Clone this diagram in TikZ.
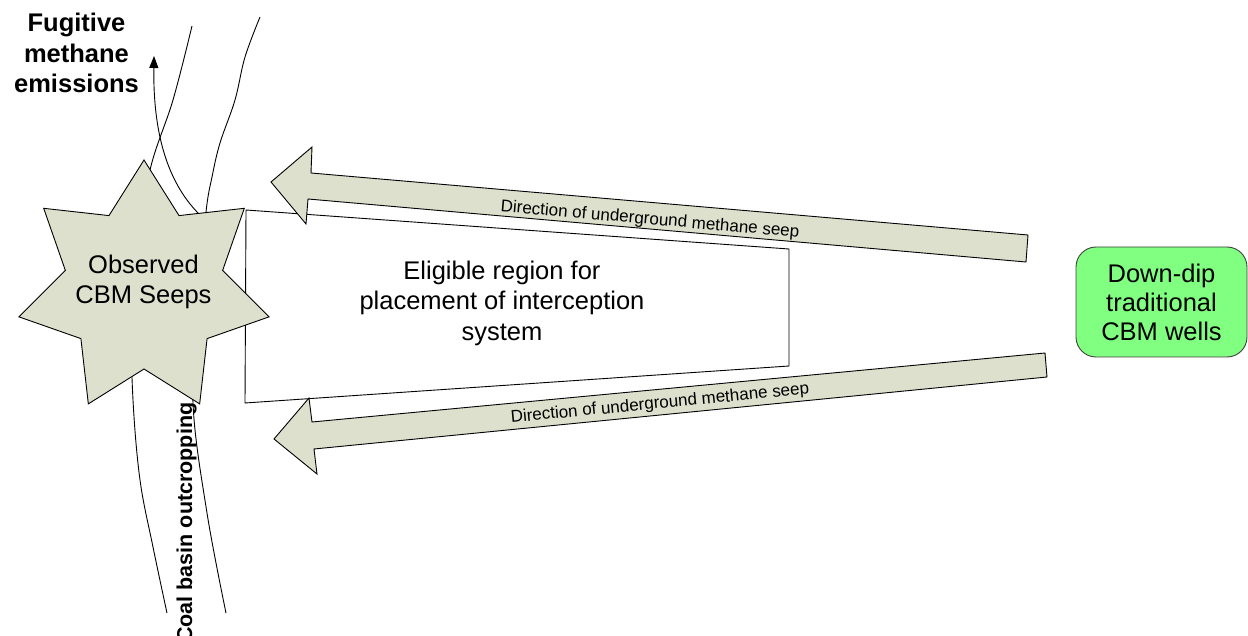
\documentclass[tikz,border=0pt]{standalone}
\usepackage{fontspec}
\setmainfont{Liberation Sans}
\usetikzlibrary{arrows.meta}
\definecolor{seepfill}{RGB}{221,224,204}
\definecolor{wellfill}{RGB}{128,255,128}
\tikzset{
  outline/.style={draw=black, line width=0.9pt},
  blockarrow/.style={outline, fill=seepfill, line join=miter},
  bigtext/.style={font=\fontsize{25.5}{30.5}\selectfont, align=center, inner sep=0pt},
  smalltext/.style={font=\fontsize{17}{20}\selectfont, inner sep=0pt},
}
\begin{document}
\begin{tikzpicture}[x=1pt,y=-1pt]
\useasboundingbox (0,0) rectangle (1248,636);
% coal basin outcrop lines
\draw[outline] plot[smooth, tension=0.6] coordinates {(192,26) (173,100) (150,170) (138,250) (132,330) (133,400) (140,480) (153,547) (167,613)};
\draw[outline] plot[smooth, tension=0.6] coordinates {(260,17) (245,57) (235,100) (220,143) (212,177) (206,212) (198,300) (193,403) (207,513) (226,613)};
% fugitive emissions arrow
\coordinate (fugstart) at (198,213);
\coordinate (fugtip) at (154,56);
\draw[outline, -{Triangle[length=12pt, width=9pt]}] (fugstart) .. controls (166,180) and (153,130) .. (fugtip);
\node[bigtext, font=\bfseries\fontsize{25.5}{30.5}\selectfont] (fug) at (76.5,53) {Fugitive\\methane\\emissions};
% eligible region
\draw[outline] (246,210) -- (789,249) -- (789,366) -- (245,403) -- cycle;
\node[bigtext] (elig) at (502,303.4) {Eligible region for\\placement of interception\\system};
% star
\draw[outline, fill=seepfill] (144,160)
  \foreach \k in {0,...,6} {
    -- ({144+80.7*cos(90+\k*360/7+360/14)}, {288.3-80.7*sin(90+\k*360/7+360/14)})
    -- ({144+128.3*cos(90+(\k+1)*360/7)}, {288.3-128.3*sin(90+(\k+1)*360/7)})
  } -- cycle;
\node[bigtext] (seeps) at (143.5,282) {Observed\\CBM Seeps};
% block arrows
\draw[blockarrow] (271,182) -- (312,147) -- (311,173) -- (1028,235) -- (1026,262) -- (308,199) -- (306,224) -- cycle;
\node[smalltext, rotate=-5] (seepA) at (650,220) {Direction of underground methane seep};
\draw[blockarrow] (274,439) -- (309,398) -- (312,422) -- (1045,353) -- (1047,377) -- (314,449) -- (317,474) -- cycle;
\node[smalltext, rotate=5.5] (seepB) at (660,404) {Direction of underground methane seep};
% wells
\node[draw=black!75, line width=0.9pt, fill=wellfill, rounded corners=20pt, minimum width=171pt, minimum height=110pt, bigtext, font=\fontsize{25.5}{29}\selectfont] (wells) at (1161.5,302) {Down-dip\\traditional\\CBM wells};
% outcrop label
\node[font=\bfseries\fontsize{21.5}{24}\selectfont, rotate=90, anchor=base west, inner sep=0pt] (outcrop) at (192,643) {Coal basin outcropping};
\end{tikzpicture}
\end{document}
